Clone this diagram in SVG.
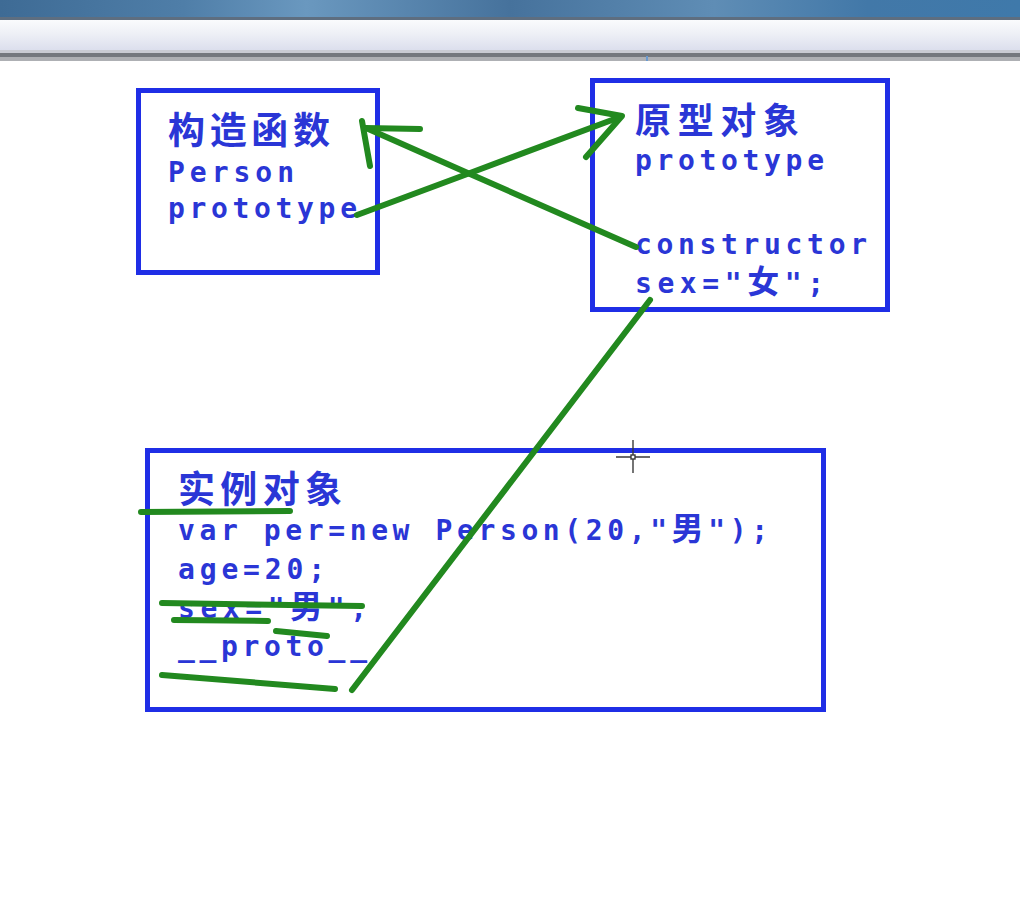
<svg xmlns="http://www.w3.org/2000/svg" width="1020" height="900" viewBox="0 0 1020 900">
<defs>
<linearGradient id="titlebar" x1="0" y1="0" x2="1" y2="0">
<stop offset="0" stop-color="#3e6b95"/>
<stop offset="0.18" stop-color="#4f7ea8"/>
<stop offset="0.3" stop-color="#6a98bf"/>
<stop offset="0.5" stop-color="#46729c"/>
<stop offset="0.7" stop-color="#5f8db5"/>
<stop offset="0.85" stop-color="#4278a8"/>
<stop offset="1" stop-color="#3f79aa"/>
</linearGradient>
<linearGradient id="toolbar" x1="0" y1="0" x2="0" y2="1">
<stop offset="0" stop-color="#fafbfd"/>
<stop offset="0.45" stop-color="#eef0f6"/>
<stop offset="1" stop-color="#dcdfed"/>
</linearGradient>
<style>
.box{fill:none;stroke:#1f2ee6;stroke-width:5}
.t{font-family:"DejaVu Sans Mono","Liberation Mono","Noto Sans CJK SC",monospace;font-size:28px;font-weight:bold;fill:#2a36d6}
.cjk{font-family:"Noto Sans CJK SC","Noto Sans CJK TC",sans-serif;font-weight:600;fill:#2a36d6}
.ink{fill:none;stroke:#22891f;stroke-width:6;stroke-linecap:round;stroke-linejoin:round}
</style>
</defs>
<rect x="0" y="0" width="1020" height="900" fill="#ffffff"/>
<!-- window chrome -->
<rect x="0" y="0" width="1020" height="17" fill="url(#titlebar)"/>
<rect x="0" y="17" width="1020" height="3" fill="#5e6e80"/>
<rect x="0" y="20" width="1020" height="30" fill="url(#toolbar)"/>
<rect x="0" y="50" width="1020" height="3" fill="#c9cbd3"/>
<rect x="0" y="53" width="1020" height="4" fill="#74787e"/>
<rect x="0" y="57" width="1020" height="4" fill="#aeb0b4"/>
<rect x="646" y="56" width="2" height="5" fill="#6a9ad0"/>

<g id="constructor-node">
<rect class="box" x="138.5" y="90.5" width="239" height="182"/>
<text class="cjk" x="168" y="144" font-size="37" textLength="162" lengthAdjust="spacing">构造函数</text>
<text class="t" x="168" y="182" textLength="126" lengthAdjust="spacing">Person</text>
<text class="t" x="168" y="218" textLength="189" lengthAdjust="spacing">prototype</text>
</g>

<g id="prototype-node">
<rect class="box" x="592.5" y="80.5" width="295" height="229"/>
<text class="cjk" x="635" y="134" font-size="36" textLength="164" lengthAdjust="spacing">原型对象</text>
<text class="t" x="635" y="170" textLength="189" lengthAdjust="spacing">prototype</text>
<text class="t" x="635" y="254" textLength="232" lengthAdjust="spacing">constructor</text>
<text class="t" x="635" y="293" textLength="189" lengthAdjust="spacing">sex="<tspan class="cjk" font-size="32">女</tspan>";</text>
</g>

<g id="instance-node">
<rect class="box" x="147.5" y="450.5" width="676" height="259"/>
<text class="cjk" x="178" y="503" font-size="37" textLength="164" lengthAdjust="spacing">实例对象</text>
<text class="t" x="178" y="540" textLength="590" lengthAdjust="spacing">var per=new Person(20,"<tspan class="cjk" font-size="32">男</tspan>");</text>
<text class="t" x="178" y="579" textLength="147" lengthAdjust="spacing">age=20;</text>
<text class="t" x="178" y="618" textLength="189" lengthAdjust="spacing">sex="<tspan class="cjk" font-size="32">男</tspan>",</text>
<text class="t" x="178" y="656" textLength="189" lengthAdjust="spacing">__proto__</text>
</g>

<g id="connectors">
<!-- prototype -> 原型对象 -->
<path class="ink" d="M357,215 L470,173 L620,117"/>
<path class="ink" d="M578,108 L622,116 L586,157"/>
<!-- constructor -> 构造函数 -->
<path class="ink" d="M636,247 L470,174 L366,128"/>
<path class="ink" d="M420,129 L365,128"/>
<path class="ink" d="M362,121 L370,166"/>
<!-- __proto__ -> prototype object -->
<path class="ink" d="M650,300 L352,690"/>
<!-- marks -->
<path class="ink" d="M141,512 L290,511"/>
<path class="ink" d="M162,603 L362,606"/>
<path class="ink" d="M174,620 L268,621"/>
<path class="ink" d="M276,631 L327,636"/>
<path class="ink" d="M162,675 L335,689"/>
</g>

<!-- mouse cursor -->
<g stroke="#3a3a3a" stroke-width="1.4" fill="none">
<line x1="633" y1="440" x2="633" y2="473"/>
<line x1="616" y1="457" x2="650" y2="457"/>
<rect x="631" y="455" width="4" height="4" fill="#ffffff"/>
</g>
</svg>
